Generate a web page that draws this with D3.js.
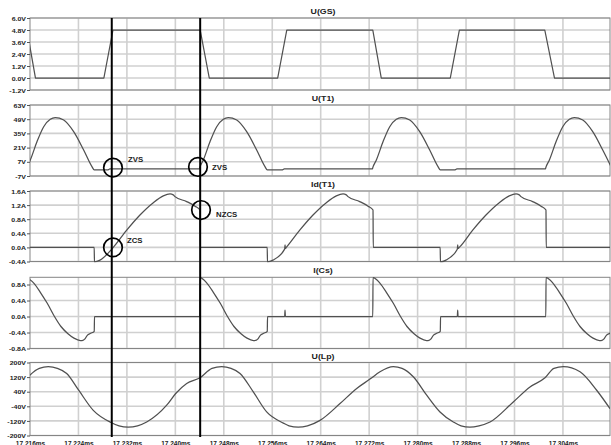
<!DOCTYPE html>
<html>
<head>
<meta charset="utf-8">
<script src="https://cdn.jsdelivr.net/npm/d3@7"></script>
<style>
  html, body { margin: 0; padding: 0; background: #fff; }
  svg { display: block; }
  text { font-family: "Liberation Sans", Arial, sans-serif; font-weight: bold; fill: #222; }
</style>
</head>
<body>
<svg id="chart" width="611" height="445"></svg>
<script>
// ---- time axis (ms) ----
const timeDomain = [17.216, 17.31177];
const timeTicks = [17.216, 17.224, 17.232, 17.240, 17.248, 17.256, 17.264, 17.272, 17.280, 17.288, 17.296, 17.304];

// ---- value-axis ticks and ranges for each trace ----
const gsTicks  = [6.0, 4.8, 3.6, 2.4, 1.2, 0.0, -1.2];
const t1Ticks  = [63, 49, 35, 21, 7, -7];
const idTicks  = [1.6, 1.2, 0.8, 0.4, 0.0, -0.4];
const csTicks  = [0.8, 0.4, 0.0, -0.4, -0.8];
const lpTicks  = [200, 120, 40, -40, -120, -200];

const gsDomain = [-1.2, 6.0];
const t1Domain = [-7, 63];
const idDomain = [-0.4, 1.6];
const csDomain = [-0.8, 0.98];
const lpDomain = [-200, 200];

// ---- traces: [time ms, value] ----
const uGS = [
  [17.2155, 4.8], [17.2169, 0], [17.2282, 0], [17.2297, 4.8], [17.2441, 4.8], [17.2456, 0],
  [17.2569, 0], [17.2584, 4.8], [17.2726, 4.8], [17.2740, 0], [17.2854, 0], [17.2869, 4.8],
  [17.3010, 4.8], [17.3026, 0], [17.3120, 0]
];

const uT1 = [
  [17.21550, 2], [17.21605, 8.8], [17.21715, 26.8], [17.21826, 41.6], [17.21935, 48.9], [17.22017, 50.5],
  [17.22156, 48.2], [17.22321, 36.7], [17.22486, 18.6], [17.22623, 2.2], [17.22661, -1],
  [17.22880, -1], [17.22920, 0], [17.24395, 0],
  [17.24407, 2], [17.24462, 8.8], [17.24572, 26.8], [17.24683, 41.6], [17.24792, 48.9], [17.24874, 50.5],
  [17.25013, 48.2], [17.25178, 36.7], [17.25343, 18.6], [17.25480, 2.2], [17.25518, -1],
  [17.25760, -1], [17.25800, 0], [17.27253, 0],
  [17.27264, 2], [17.27319, 8.8], [17.27429, 26.8], [17.27540, 41.6], [17.27649, 48.9], [17.27731, 50.5],
  [17.27870, 48.2], [17.28035, 36.7], [17.28200, 18.6], [17.28337, 2.2], [17.28375, -1],
  [17.28610, -1], [17.28650, 0], [17.30110, 0],
  [17.30121, 2], [17.30176, 8.8], [17.30286, 26.8], [17.30397, 41.6], [17.30506, 48.9], [17.30588, 50.5],
  [17.30727, 48.2], [17.30892, 36.7], [17.31057, 18.6], [17.31194, 2.2]
];

const idT1 = [
  [17.21550, 0], [17.22660, 0],
  [17.22664, -0.41], [17.22756, -0.36], [17.22975, 0.0], [17.23197, 0.49], [17.23416, 0.92], [17.23636, 1.27],
  [17.23801, 1.46], [17.23912, 1.515], [17.23966, 1.49], [17.23994, 1.44], [17.24187, 1.30], [17.24325, 1.17],
  [17.24407, 1.06], [17.24411, 0], [17.25517, 0],
  [17.25521, -0.41], [17.25613, -0.36], [17.25805, -0.05], [17.25811, 0.07], [17.25817, -0.03], [17.25832, 0.0],
  [17.26054, 0.49], [17.26273, 0.92], [17.26493, 1.27], [17.26658, 1.46], [17.26769, 1.515], [17.26823, 1.49],
  [17.26851, 1.44], [17.27044, 1.30], [17.27182, 1.17], [17.27264, 1.06], [17.27268, 0], [17.28373, 0],
  [17.28377, -0.41], [17.28469, -0.36], [17.28656, -0.05], [17.28662, 0.07], [17.28668, -0.03], [17.28688, 0.0],
  [17.28910, 0.49], [17.29129, 0.92], [17.29349, 1.27], [17.29514, 1.46], [17.29625, 1.515], [17.29679, 1.49],
  [17.29707, 1.44], [17.29900, 1.30], [17.30038, 1.17], [17.30120, 1.06], [17.30124, 0], [17.31200, 0]
];

const iCs = [
  [17.21550, 0.97], [17.21666, 0.83], [17.21781, 0.58], [17.21885, 0.33], [17.22004, 0.0], [17.22111, -0.25],
  [17.22227, -0.43], [17.22326, -0.54], [17.22433, -0.6], [17.22475, -0.595], [17.22508, -0.56], [17.22546, -0.47],
  [17.22602, -0.42], [17.22661, -0.37], [17.22665, 0], [17.24403, 0],
  [17.24407, 0.97], [17.24523, 0.83], [17.24638, 0.58], [17.24742, 0.33], [17.24861, 0.0], [17.24968, -0.25],
  [17.25084, -0.43], [17.25183, -0.54], [17.25290, -0.6], [17.25332, -0.595], [17.25365, -0.56], [17.25403, -0.47],
  [17.25459, -0.42], [17.25518, -0.37], [17.25522, 0],
  [17.25805, 0], [17.25811, 0.16], [17.25817, 0], [17.27260, 0],
  [17.27264, 0.97], [17.27380, 0.83], [17.27495, 0.58], [17.27599, 0.33], [17.27718, 0.0], [17.27825, -0.25],
  [17.27941, -0.43], [17.28040, -0.54], [17.28147, -0.6], [17.28189, -0.595], [17.28222, -0.56], [17.28260, -0.47],
  [17.28316, -0.42], [17.28375, -0.37], [17.28379, 0],
  [17.28656, 0], [17.28662, 0.16], [17.28668, 0], [17.30117, 0],
  [17.30121, 0.97], [17.30237, 0.83], [17.30352, 0.58], [17.30456, 0.33], [17.30575, 0.0], [17.30682, -0.25],
  [17.30798, -0.43], [17.30897, -0.54], [17.31004, -0.6], [17.31046, -0.595], [17.31079, -0.56], [17.31117, -0.47],
  [17.31173, -0.42], [17.31232, -0.37]
];

const uLp = [
  [17.21550, 112], [17.21600, 131], [17.21754, 168], [17.21902, 177], [17.22051, 168], [17.22206, 140],
  [17.22404, 48], [17.22645, -62], [17.22921, -126], [17.23070, -147], [17.23223, -154], [17.23375, -147],
  [17.23527, -126], [17.23857, -34], [17.24006, 30], [17.24187, 85], [17.24407, 116], [17.24605, 168],
  [17.24765, 177], [17.24919, 168], [17.25068, 140], [17.25287, 39], [17.25508, -71], [17.25783, -132],
  [17.25877, -147], [17.26030, -154], [17.26182, -147], [17.26389, -117], [17.26719, -25], [17.26995, 58],
  [17.27214, 109], [17.27379, 149], [17.27599, 177], [17.27743, 168], [17.27929, 122], [17.28150, 21],
  [17.28370, -71], [17.28590, -126], [17.28717, -147], [17.28865, -154], [17.29014, -147], [17.29196, -126],
  [17.29580, -16], [17.29856, 66], [17.30104, 116], [17.30252, 168], [17.30406, 177], [17.30682, 149],
  [17.30957, 48], [17.31177, -53]
];

// ---- cursors and annotations ----
const cursorTimes = [17.2295, 17.2441];
const marks = [
  { panel: 1, t: 17.22970, v: 1.2,  label: "ZVS" },
  { panel: 1, t: 17.24374, v: 1.9,  label: "ZVS" },
  { panel: 2, t: 17.24424, v: 1.06, label: "NZCS" },
  { panel: 2, t: 17.22970, v: 0.0,  label: "ZCS" }
];

// ---- layout ----
const svg = d3.select("#chart");
const plotLeft = 30, plotRight = 610;
const bands = [
  { top: 18,    bottom: 90 },
  { top: 105,   bottom: 176 },
  { top: 191,   bottom: 261.5 },
  { top: 277.3, bottom: 348.5 },
  { top: 362.5, bottom: 435.5 }
];
const labelOffsets = [[15, -6], [14, 3], [15, 7], [14, -4]];

const fmt1 = d => d.toFixed(1);
const fmt0 = d => String(d);

const traces = [
  { title: "U(GS)",  data: uGS,  ticks: gsTicks, domain: gsDomain, unit: "V", fmt: fmt1, curve: d3.curveLinear },
  { title: "U(T1)",  data: uT1,  ticks: t1Ticks, domain: t1Domain, unit: "V", fmt: fmt0, curve: d3.curveMonotoneX },
  { title: "Id(T1)", data: idT1, ticks: idTicks, domain: idDomain, unit: "A", fmt: fmt1, curve: d3.curveMonotoneX },
  { title: "I(Cs)",  data: iCs,  ticks: csTicks, domain: csDomain, unit: "A", fmt: fmt1, curve: d3.curveMonotoneX },
  { title: "U(Lp)",  data: uLp,  ticks: lpTicks, domain: lpDomain, unit: "V", fmt: fmt0, curve: d3.curveMonotoneX }
];

const x = d3.scaleLinear().domain(timeDomain).range([plotLeft, plotRight]);
const yScales = [];

const gridColor = "#d0d0d0";
const frameColor = "#858585";
const traceColor = "#505050";

traces.forEach((tr, i) => {
  const b = bands[i];
  const y = d3.scaleLinear().domain(tr.domain).range([b.bottom, b.top]);
  yScales.push(y);
  const g = svg.append("g");

  // horizontal grid
  g.selectAll("line.hg").data(tr.ticks).join("line")
    .attr("class", "hg")
    .attr("x1", plotLeft).attr("x2", plotRight)
    .attr("y1", d => y(d)).attr("y2", d => y(d))
    .attr("stroke", gridColor).attr("stroke-width", 1.6);

  // vertical grid
  g.selectAll("line.vg").data(timeTicks.slice(1)).join("line")
    .attr("class", "vg")
    .attr("x1", d => x(d)).attr("x2", d => x(d))
    .attr("y1", b.top).attr("y2", b.bottom)
    .attr("stroke", gridColor).attr("stroke-width", 1.6);

  // frame
  g.append("rect")
    .attr("x", plotLeft).attr("y", b.top)
    .attr("width", plotRight - plotLeft).attr("height", b.bottom - b.top)
    .attr("fill", "none").attr("stroke", frameColor).attr("stroke-width", 1);

  // value axis
  const ax = g.append("g")
    .attr("transform", `translate(${plotLeft},0)`)
    .call(d3.axisLeft(y).tickValues(tr.ticks).tickFormat(d => tr.fmt(d) + tr.unit).tickSize(3).tickPadding(1));
  ax.select(".domain").remove();
  ax.selectAll(".tick line").attr("stroke", "#555");
  ax.selectAll(".tick text")
    .attr("font-size", 7)
    .attr("dy", "0.36em")
    .attr("transform", "scale(1,0.86)")
    .style("fill", "#222");

  // title
  svg.append("text")
    .attr("transform", `translate(323,${b.top - 4}) scale(1,0.84)`)
    .attr("text-anchor", "middle")
    .attr("font-size", 8.8)
    .text(tr.title);

  // clipped trace
  const clipId = "clip" + i;
  svg.append("clipPath").attr("id", clipId)
    .append("rect").attr("x", plotLeft).attr("y", b.top - 1)
    .attr("width", plotRight - plotLeft).attr("height", b.bottom - b.top + 2);

  const line = d3.line().x(d => x(d[0])).y(d => y(d[1])).curve(tr.curve);
  svg.append("path")
    .datum(tr.data)
    .attr("clip-path", `url(#${clipId})`)
    .attr("d", line)
    .attr("fill", "none")
    .attr("stroke", traceColor)
    .attr("stroke-width", 1.25)
    .attr("stroke-linejoin", "round");
});

// time axis labels
const xa = svg.append("g")
  .attr("transform", `translate(0,${bands[4].bottom})`)
  .call(d3.axisBottom(x).tickValues(timeTicks).tickFormat(d => d.toFixed(3) + "ms").tickSize(0).tickPadding(0));
xa.select(".domain").remove();
xa.selectAll(".tick text")
  .attr("font-size", 6.5)
  .attr("y", 10)
  .attr("dy", 0)
  .style("fill", "#222");

// cursors
svg.selectAll("line.cursor").data(cursorTimes).join("line")
  .attr("class", "cursor")
  .attr("x1", d => x(d)).attr("x2", d => x(d))
  .attr("y1", bands[0].top).attr("y2", bands[4].bottom + 1.5)
  .attr("stroke", "#000").attr("stroke-width", 2);

// annotation circles and labels
marks.forEach((m, k) => {
  const cx = x(m.t), cy = yScales[m.panel](m.v);
  svg.append("circle")
    .attr("cx", cx).attr("cy", cy).attr("r", 9.3)
    .attr("fill", "none").attr("stroke", "#000").attr("stroke-width", 1.7);
  svg.append("text")
    .attr("transform", `translate(${cx + labelOffsets[k][0]},${cy + labelOffsets[k][1]}) scale(1,0.88)`)
    .attr("font-size", 7.8)
    .style("fill", "#222")
    .text(m.label);
});
</script>
</body>
</html>
